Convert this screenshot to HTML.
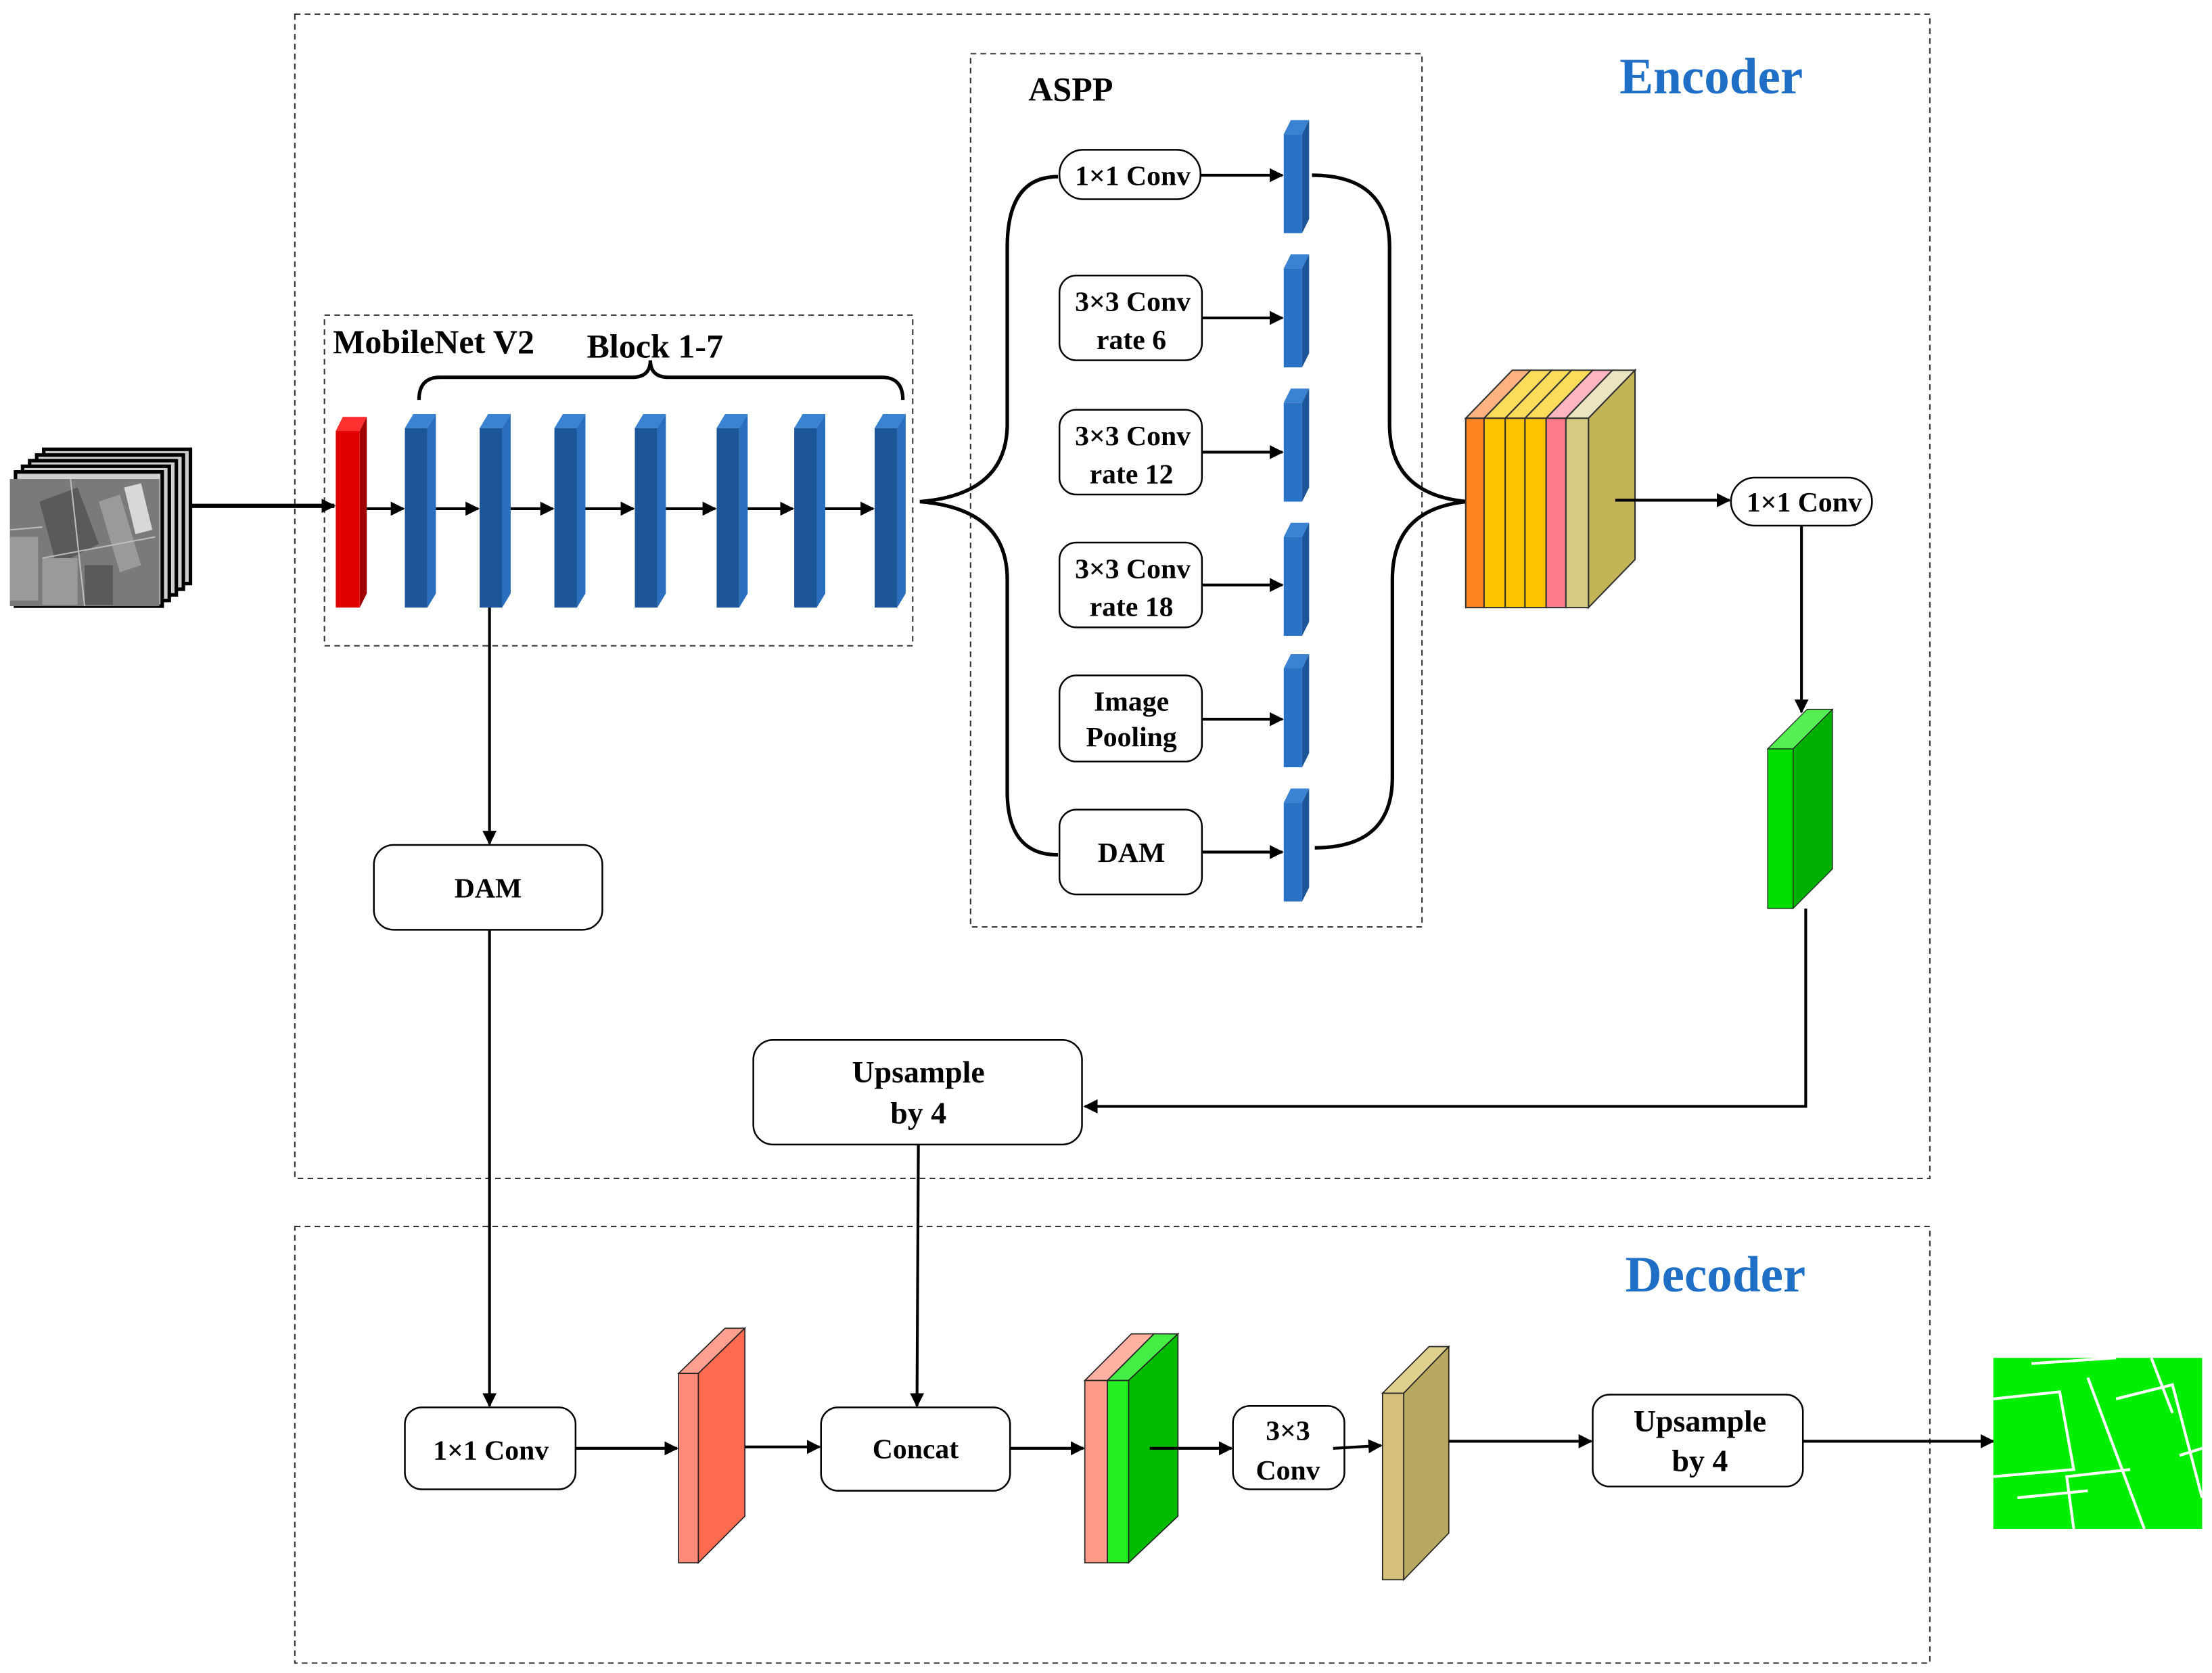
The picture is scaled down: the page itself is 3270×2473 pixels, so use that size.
<!DOCTYPE html>
<html><head><meta charset="utf-8"><style>
html,body{margin:0;padding:0;background:#fff;}
svg{display:block;}
text{font-family:"Liberation Serif",serif;font-weight:bold;fill:#000;}
</style></head><body>
<svg width="3270" height="2473" viewBox="0 0 1568 1184" preserveAspectRatio="none" xmlns="http://www.w3.org/2000/svg">
<defs>
<marker id="a" markerWidth="10" markerHeight="10" refX="9" refY="5" orient="auto" markerUnits="userSpaceOnUse" viewBox="0 0 10 10">
<path d="M0,0 L10,5 L0,10 z" fill="#000"/></marker>
</defs>
<g fill="none" stroke="#333" stroke-width="1" stroke-dasharray="4,3">
<rect x="209" y="10" width="1159" height="824"/>
<rect x="209" y="868" width="1159" height="309"/>
<rect x="688" y="38" width="320" height="618"/>
<rect x="230" y="223" width="417" height="234"/>
</g>
<text x="1148" y="66" font-size="36" style="fill:#1f6fc6">Encoder</text>
<text x="1152" y="914" font-size="36" style="fill:#1f6fc6">Decoder</text>
<text x="729" y="71" font-size="24">ASPP</text>
<text x="236" y="250" font-size="24">MobileNet V2</text>
<text x="416" y="253" font-size="24">Block 1-7</text>
<path d="M297,283 Q297,267 312,267 L448,267 Q461,267 461,255 Q461,267 474,267 L625,267 Q640,267 640,283" fill="none" stroke="#000" stroke-width="2.5"/>

<!-- input image stack -->
<g stroke="#000" stroke-width="2.5" fill="#cfcfcf">
<rect x="31" y="318" width="104" height="95"/>
<rect x="26" y="322" width="104" height="95"/>
<rect x="21" y="326" width="104" height="95"/>
<rect x="16" y="330" width="104" height="95"/>
<rect x="11" y="334" width="104" height="95"/>
</g>
<rect x="7" y="339" width="106" height="90" fill="#7a7a7a"/>
<g fill="#5a5a5a"><polygon points="28,355 55,345 70,385 40,400"/><rect x="60" y="400" width="20" height="28"/></g>
<g fill="#9a9a9a"><rect x="7" y="380" width="20" height="45"/><rect x="30" y="395" width="25" height="33"/><polygon points="70,355 85,350 100,400 85,405"/></g>
<g fill="#d8d8d8"><polygon points="88,345 100,342 108,375 96,378"/></g>
<g stroke="#bbb" stroke-width="1"><line x1="7" y1="375" x2="30" y2="373"/><line x1="30" y1="395" x2="110" y2="380"/><line x1="50" y1="339" x2="60" y2="429"/></g>
<line x1="135" y1="358" x2="237" y2="358" stroke="#000" stroke-width="3" marker-end="url(#a)"/>

<!-- red block -->
<polygon points="238,305 243,295 260,295 255,305" fill="#ff3030"/>
<polygon points="255,305 260,295 260,420 255,430" fill="#a00000"/>
<rect x="238" y="305" width="17" height="125" fill="#e00000"/>
<!-- blue blocks -->
<g id="bb">
<polygon points="287,303 293,293 309,293 303,303" fill="#3a82d2"/>
<polygon points="303,303 309,293 309,420 303,430" fill="#2a6fbd"/>
<rect x="287" y="303" width="16" height="127" fill="#1c5698"/>
</g>
<use href="#bb" x="53"/><use href="#bb" x="106"/><use href="#bb" x="163"/><use href="#bb" x="221"/><use href="#bb" x="276"/><use href="#bb" x="333"/>
<g stroke="#000" stroke-width="2" marker-end="url(#a)">
<line x1="260" y1="360" x2="286" y2="360"/><line x1="309" y1="360" x2="339" y2="360"/><line x1="362" y1="360" x2="392" y2="360"/>
<line x1="415" y1="360" x2="449" y2="360"/><line x1="472" y1="360" x2="507" y2="360"/><line x1="530" y1="360" x2="562" y2="360"/><line x1="585" y1="360" x2="619" y2="360"/>
</g>
<!-- left brace -->
<path d="M652,355 Q714,350 714,300 L714,175 Q714,125 750,125 M652,355 Q714,360 714,410 L714,560 Q714,605 750,605" fill="none" stroke="#000" stroke-width="2.5"/>
<!-- ASPP boxes -->
<g fill="#fff" stroke="#000" stroke-width="1.2">
<rect x="751" y="106" width="100" height="35" rx="17"/>
<rect x="751" y="195" width="101" height="60" rx="12"/>
<rect x="751" y="290" width="101" height="60" rx="12"/>
<rect x="751" y="384" width="101" height="60" rx="12"/>
<rect x="751" y="478" width="101" height="61" rx="12"/>
<rect x="751" y="573" width="101" height="60" rx="12"/>
</g>
<g font-size="20" text-anchor="middle">
<text x="803" y="131">1×1 Conv</text>
<text x="803" y="220">3×3 Conv</text><text x="802" y="247">rate 6</text>
<text x="803" y="315">3×3 Conv</text><text x="802" y="342">rate 12</text>
<text x="803" y="409">3×3 Conv</text><text x="802" y="436">rate 18</text>
<text x="802" y="503">Image</text><text x="802" y="528">Pooling</text>
<text x="802" y="610">DAM</text>
</g>
<g id="ab">
<polygon points="910,95 915,85 928,85 923,95" fill="#3a82d2"/>
<polygon points="923,95 928,85 928,155 923,165" fill="#1c5698"/>
<rect x="910" y="95" width="13" height="70" fill="#2a72c6"/>
</g>
<use href="#ab" y="95"/><use href="#ab" y="190"/><use href="#ab" y="285"/><use href="#ab" y="378"/><use href="#ab" y="473"/>
<g stroke="#000" stroke-width="2" marker-end="url(#a)">
<line x1="851" y1="124" x2="909" y2="124"/><line x1="852" y1="225" x2="909" y2="225"/><line x1="852" y1="320" x2="909" y2="320"/>
<line x1="852" y1="414" x2="909" y2="414"/><line x1="852" y1="509" x2="909" y2="509"/><line x1="852" y1="603" x2="909" y2="603"/>
</g>
<path d="M930,124 Q985,124 985,175 L985,300 Q985,350 1040,355 M932,600 Q987,600 987,550 L987,410 Q987,360 1040,355" fill="none" stroke="#000" stroke-width="2.5"/>
<!-- concat stack -->
<g stroke="#333" stroke-width="1">
<polygon points="1039,296 1072,262 1085,262 1052,296" fill="#ffb380"/>
<polygon points="1052,296 1085,262 1100,262 1067,296" fill="#fddc5c"/>
<polygon points="1067,296 1100,262 1114,262 1081,296" fill="#fddc5c"/>
<polygon points="1081,296 1114,262 1129,262 1096,296" fill="#fddc5c"/>
<polygon points="1096,296 1129,262 1143,262 1110,296" fill="#ffb6c1"/>
<polygon points="1110,296 1143,262 1159,262 1126,296" fill="#ebe4c0"/>
<polygon points="1126,296 1159,262 1159,396 1126,430" fill="#c4b458"/>
<rect x="1039" y="296" width="13" height="134" fill="#ff8522"/>
<rect x="1052" y="296" width="15" height="134" fill="#ffc400"/>
<rect x="1067" y="296" width="14" height="134" fill="#ffc400"/>
<rect x="1081" y="296" width="15" height="134" fill="#ffc400"/>
<rect x="1096" y="296" width="14" height="134" fill="#ff7a8a"/>
<rect x="1110" y="296" width="16" height="134" fill="#d4ca82"/>
</g>
<line x1="1145" y1="354" x2="1226" y2="354" stroke="#000" stroke-width="2" marker-end="url(#a)"/>
<rect x="1227" y="338" width="100" height="34" rx="17" fill="#fff" stroke="#000" stroke-width="1.2"/>
<text x="1279" y="362" font-size="20" text-anchor="middle">1×1 Conv</text>
<line x1="1277" y1="372" x2="1277" y2="504" stroke="#000" stroke-width="2" marker-end="url(#a)"/>
<!-- green block -->
<polygon points="1253,530 1281,502 1299,502 1271,530" fill="#55ee55" stroke="#222" stroke-width="0.6"/>
<polygon points="1271,530 1299,502 1299,615 1271,643" fill="#00b000" stroke="#222" stroke-width="0.6"/>
<rect x="1253" y="530" width="18" height="113" fill="#00dd00" stroke="#222" stroke-width="0.6"/>
<polyline points="1280,643 1280,783 769,783" fill="none" stroke="#000" stroke-width="2" marker-end="url(#a)"/>
<rect x="534" y="736" width="233" height="74" rx="14" fill="#fff" stroke="#000" stroke-width="1.2"/>
<text x="651" y="766" font-size="22" text-anchor="middle">Upsample</text>
<text x="651" y="795" font-size="22" text-anchor="middle">by 4</text>
<!-- DAM -->
<line x1="347" y1="430" x2="347" y2="597" stroke="#000" stroke-width="2" marker-end="url(#a)"/>
<rect x="265" y="598" width="162" height="60" rx="14" fill="#fff" stroke="#000" stroke-width="1.2"/>
<text x="346" y="635" font-size="20" text-anchor="middle">DAM</text>
<line x1="347" y1="658" x2="347" y2="995" stroke="#000" stroke-width="2" marker-end="url(#a)"/>
<line x1="651" y1="810" x2="650" y2="995" stroke="#000" stroke-width="2" marker-end="url(#a)"/>
<!-- decoder -->
<rect x="287" y="996" width="121" height="58" rx="12" fill="#fff" stroke="#000" stroke-width="1.2"/>
<text x="348" y="1033" font-size="20" text-anchor="middle">1×1 Conv</text>
<rect x="582" y="996" width="134" height="59" rx="12" fill="#fff" stroke="#000" stroke-width="1.2"/>
<text x="649" y="1032" font-size="20" text-anchor="middle">Concat</text>
<rect x="874" y="995" width="79" height="59" rx="12" fill="#fff" stroke="#000" stroke-width="1.2"/>
<text x="913" y="1019" font-size="20" text-anchor="middle">3×3</text>
<text x="913" y="1047" font-size="20" text-anchor="middle">Conv</text>
<rect x="1129" y="987" width="149" height="65" rx="12" fill="#fff" stroke="#000" stroke-width="1.2"/>
<text x="1205" y="1013" font-size="22" text-anchor="middle">Upsample</text>
<text x="1205" y="1041" font-size="22" text-anchor="middle">by 4</text>
<g stroke="#222" stroke-width="0.8">
<polygon points="481,972 514,940 528,940 495,972" fill="#ffa090"/>
<polygon points="495,972 528,940 528,1073 495,1106" fill="#ff6a50"/>
<rect x="481" y="972" width="14" height="134" fill="#ff8a78"/>
<polygon points="769,977 802,944 818,944 785,977" fill="#ffb0a0"/>
<polygon points="785,977 818,944 835,944 800,977" fill="#44ee44"/>
<polygon points="800,977 835,944 835,1073 800,1106" fill="#00bb00"/>
<rect x="769" y="977" width="16" height="129" fill="#ff9a88"/>
<rect x="785" y="977" width="15" height="129" fill="#22ee22"/>
<polygon points="980,986 1013,953 1027,953 995,986" fill="#e0d090"/>
<polygon points="995,986 1027,953 1027,1085 995,1118" fill="#b8a860"/>
<rect x="980" y="986" width="15" height="132" fill="#d4c07a"/>
</g>
<g stroke="#000" stroke-width="2" marker-end="url(#a)">
<line x1="408" y1="1025" x2="480" y2="1025"/>
<line x1="528" y1="1024" x2="581" y2="1024"/>
<line x1="716" y1="1025" x2="768" y2="1025"/>
<line x1="815" y1="1025" x2="873" y2="1025"/>
<line x1="945" y1="1025" x2="979" y2="1023"/>
<line x1="1027" y1="1020" x2="1128" y2="1020"/>
<line x1="1278" y1="1020" x2="1413" y2="1020"/>
</g>
<!-- output -->
<rect x="1413" y="961" width="148" height="121" fill="#00ee00"/>
<g stroke="#fff" stroke-width="2" fill="none">
<path d="M1413,990 L1460,985 L1470,1040 L1413,1045 M1440,965 L1500,961 M1480,975 L1520,1082 M1500,990 L1540,980 L1561,1060 M1430,1060 L1480,1055 M1470,1082 L1465,1045 L1510,1040 M1525,961 L1540,1000 M1545,1030 L1561,1025"/>
</g>
</svg>
</body></html>
